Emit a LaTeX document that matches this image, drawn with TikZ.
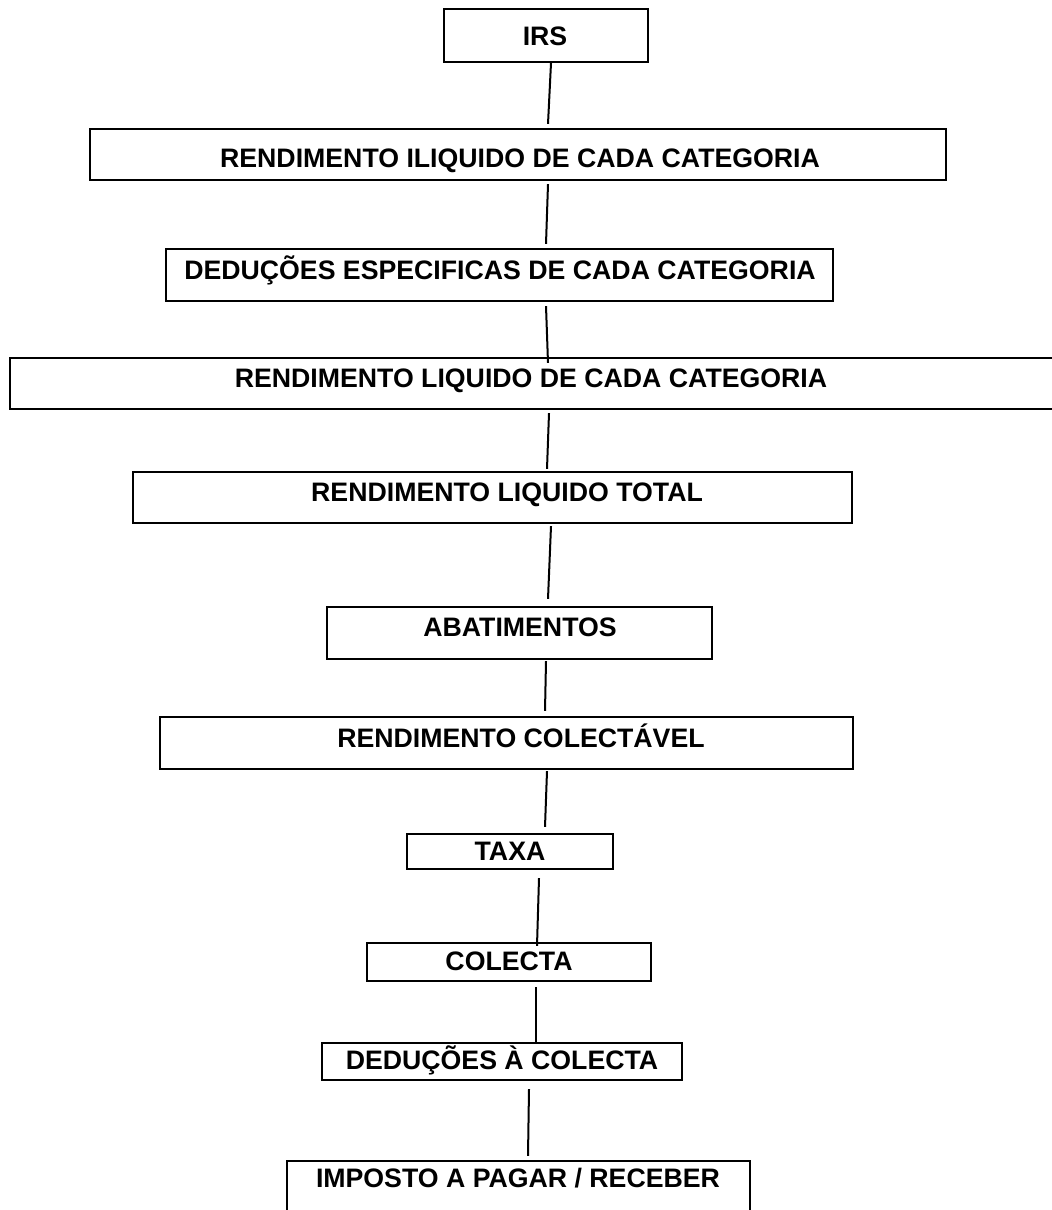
\documentclass[tikz,border=0pt]{standalone}
\usepackage{fontspec}
\setmainfont{Liberation Sans}
\tikzset{
  box/.style={draw,line width=2.2pt,inner sep=0pt},
  lbl/.style={inner sep=0pt,text height=19pt,text depth=0pt,
              font=\bfseries\fontsize{26.7}{30}\selectfont},
  link/.style={line width=2pt}
}
\begin{document}
\begin{tikzpicture}[x=1pt,y=-1pt]
                \useasboundingbox (0,0) rectangle (1052,1210);
                \clip (0,0) rectangle (1052,1210);

                % caixas
                \node[box,minimum width=204pt,minimum height=53pt] (b1) at (546,35.5) {};     %IRS
                \node[box,minimum width=856pt,minimum height=51pt] (b2) at (518,154.5) {};    %iliquido
                \node[box,minimum width=667pt,minimum height=52pt] (b3) at (499.5,275) {};    %deducoes
                \node[box,minimum width=1060pt,minimum height=51pt] (b4) at (540,383.5) {};   %liquido
                \node[box,minimum width=719pt,minimum height=51pt] (b5) at (492.5,497.5) {};  %total
                \node[box,minimum width=385pt,minimum height=52pt] (b6) at (519.5,633) {};    %abatimentos
                \node[box,minimum width=693pt,minimum height=52pt] (b7) at (506.5,743) {};    %colectavel
                \node[box,minimum width=206pt,minimum height=35pt] (b8) at (510,851.5) {};    %taxa
                \node[box,minimum width=284pt,minimum height=38pt] (b9) at (509,962) {};      %colecta
                \node[box,minimum width=360pt,minimum height=37pt] (b10) at (502,1061.5) {};  %deducoes colecta
                \node[box,minimum width=463pt,minimum height=54pt] (b11) at (518.5,1188) {};  %imposto

                % textos
                \node[lbl] (t1) at (545,36) {IRS};
                \node[lbl] (t2) at (520,158) {RENDIMENTO ILIQUIDO DE CADA CATEGORIA};
                \node[lbl] (t3) at (500,270) {DEDUÇÕES ESPECIFICAS DE CADA CATEGORIA};
                \node[lbl] (t4) at (531,378) {RENDIMENTO LIQUIDO DE CADA CATEGORIA};
                \node[lbl] (t5) at (507,492) {RENDIMENTO LIQUIDO TOTAL};
                \node[lbl] (t6) at (520,627) {ABATIMENTOS};
                \node[lbl] (t7) at (521,738) {RENDIMENTO COLECTÁVEL};
                \node[lbl] (t8) at (510,851) {TAXA};
                \node[lbl] (t9) at (509,961) {COLECTA};
                \node[lbl] (t10) at (502,1060) {DEDUÇÕES À COLECTA};
                \node[lbl] (t11) at (518,1178) {IMPOSTO A PAGAR / RECEBER};

                % linhas entre caixas
                \foreach \u/\ux/\uy/\v/\vx/\vy in {b1/5/0/b2/30/4, b2/30/-3/b3/46.5/4, b3/46.5/-4/b4/8/-6,
                    b4/9/-3/b5/54.5/2, b5/58.5/-2/b6/28.5/7, b6/26.5/-1/b7/38.5/5, b7/40.5/-1/b8/35/6,
                    b8/29/-8/b9/28/-4, b9/27/-5/b10/34/0, b10/27/-8/b11/9.5/4}
                    \draw[link] ([xshift=\ux pt,yshift=\uy pt]\u.south) -- ([xshift=\vx pt,yshift=\vy pt]\v.north);

\end{tikzpicture}
\end{document}
